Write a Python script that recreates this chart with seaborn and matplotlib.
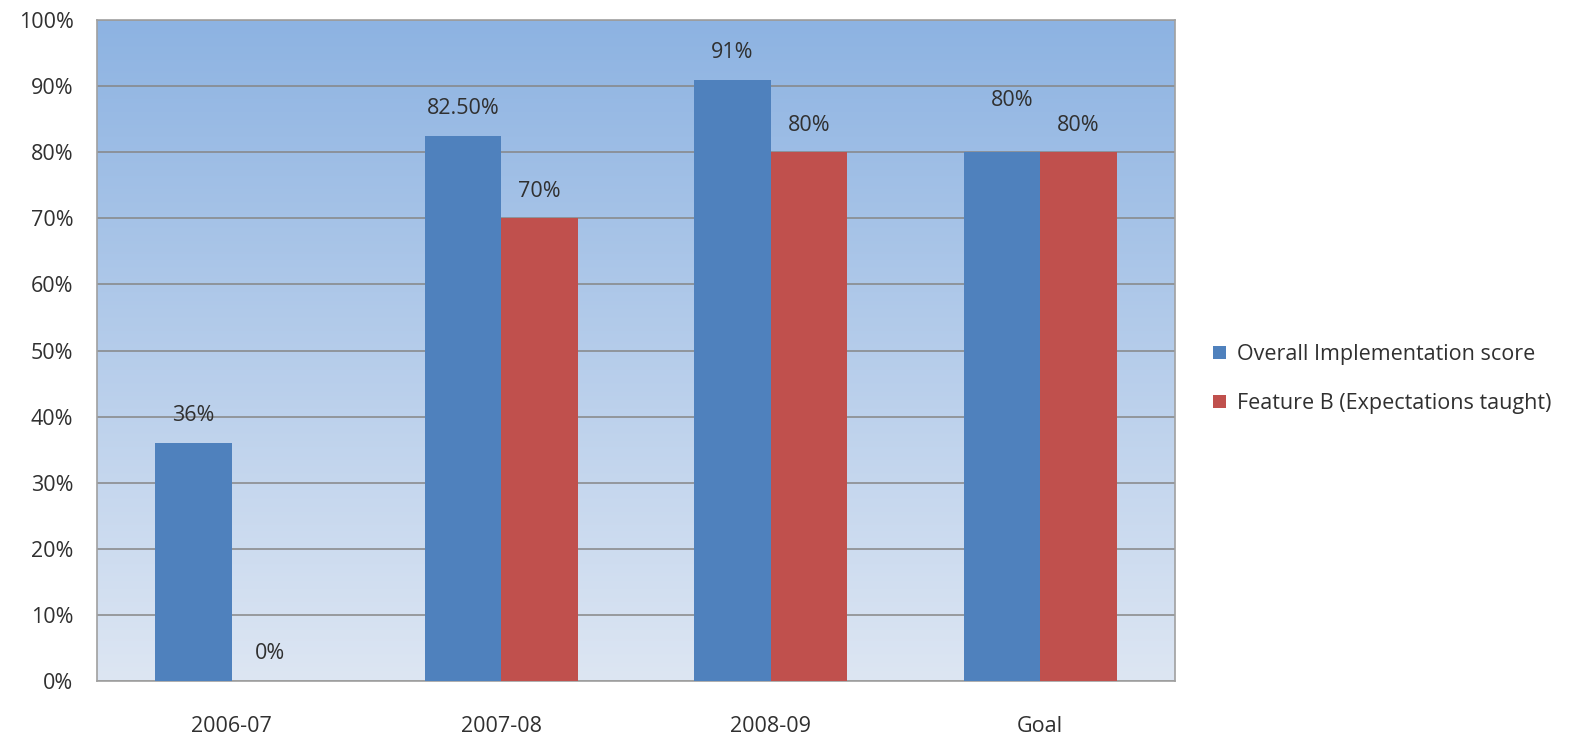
import numpy as np
import pandas as pd
import matplotlib
matplotlib.use("Agg")
import matplotlib.pyplot as plt
from matplotlib.colors import LinearSegmentedColormap
from matplotlib.patches import Patch
import seaborn as sns

categories = ["2006-07", "2007-08", "2008-09", "Goal"]
overall = [36, 82.5, 91, 80]
feature_b = [0, 70, 80, 80]
overall_labels = ["36%", "82.50%", "91%", "80%"]
feature_labels = ["0%", "70%", "80%", "80%"]
series_names = ["Overall Implementation score", "Feature B (Expectations taught)"]
colors = ["#4F81BD", "#C0504D"]

df = pd.DataFrame({
    "period": categories * 2,
    "value": overall + feature_b,
    "series": [series_names[0]] * 4 + [series_names[1]] * 4,
})

sns.set_theme(style="white")
plt.rcParams["font.family"] = ["Open Sans", "DejaVu Sans"]

fs = 15.5
fig = plt.figure(figsize=(15.91, 7.36), dpi=100)
ax = fig.add_axes([0.061, 0.0747, 0.6775, 0.898])

# vertical gradient plot area
grad = np.linspace(0, 1, 256).reshape(-1, 1)
cmap = LinearSegmentedColormap.from_list("bg", ["#DDE6F3", "#8DB3E2"])
ax.imshow(grad, cmap=cmap, aspect="auto", origin="lower",
          extent=[-0.5, 3.5, 0, 100], zorder=0)

sns.barplot(data=df, x="period", y="value", hue="series", palette=colors,
            width=0.567, saturation=1, ax=ax, zorder=3, legend=False,
            linewidth=0, edgecolor="none")

ax.set_xlim(-0.5, 3.5)
ax.set_ylim(0, 100)
ax.set_yticks(np.arange(0, 101, 10))
ax.set_yticklabels([f"{v}%" for v in range(0, 101, 10)])
ax.yaxis.grid(True, color="#868686", linewidth=1.1)
for line in ax.get_ygridlines():
    line.set_zorder(1)
ax.set_xlabel("")
ax.set_ylabel("")
ax.tick_params(axis="both", labelsize=fs, colors="#303030", length=0)
ax.tick_params(axis="y", pad=17)
ax.tick_params(axis="x", pad=25)
for s in ax.spines.values():
    s.set_color("#A0A0A0")
    s.set_linewidth(1.2)

# value labels above bars
bars_overall = ax.containers[0]
bars_feature = ax.containers[1]
for i, (b, txt) in enumerate(zip(bars_overall, overall_labels)):
    dy = 30 if categories[i] == "Goal" else 12
    dx = 7 if categories[i] == "Goal" else 0
    ax.annotate(txt, (b.get_x() + b.get_width() / 2, b.get_height()),
                xytext=(dx, dy), textcoords="offset points",
                ha="center", va="bottom", fontsize=fs, color="#303030", zorder=5)
for b, txt in zip(bars_feature, feature_labels):
    ax.annotate(txt, (b.get_x() + b.get_width() / 2, b.get_height()),
                xytext=(0, 12), textcoords="offset points",
                ha="center", va="bottom", fontsize=fs, color="#303030", zorder=5)

handles = [Patch(facecolor=c, edgecolor="none") for c in colors]
fig.legend(handles, series_names, loc="center left",
           bbox_to_anchor=(0.75, 0.485), frameon=False, fontsize=fs,
           handlelength=0.6, handleheight=0.6, handletextpad=0.55,
           labelspacing=1.3, labelcolor="#303030")

fig.savefig("out.png", dpi=100, facecolor="white")
